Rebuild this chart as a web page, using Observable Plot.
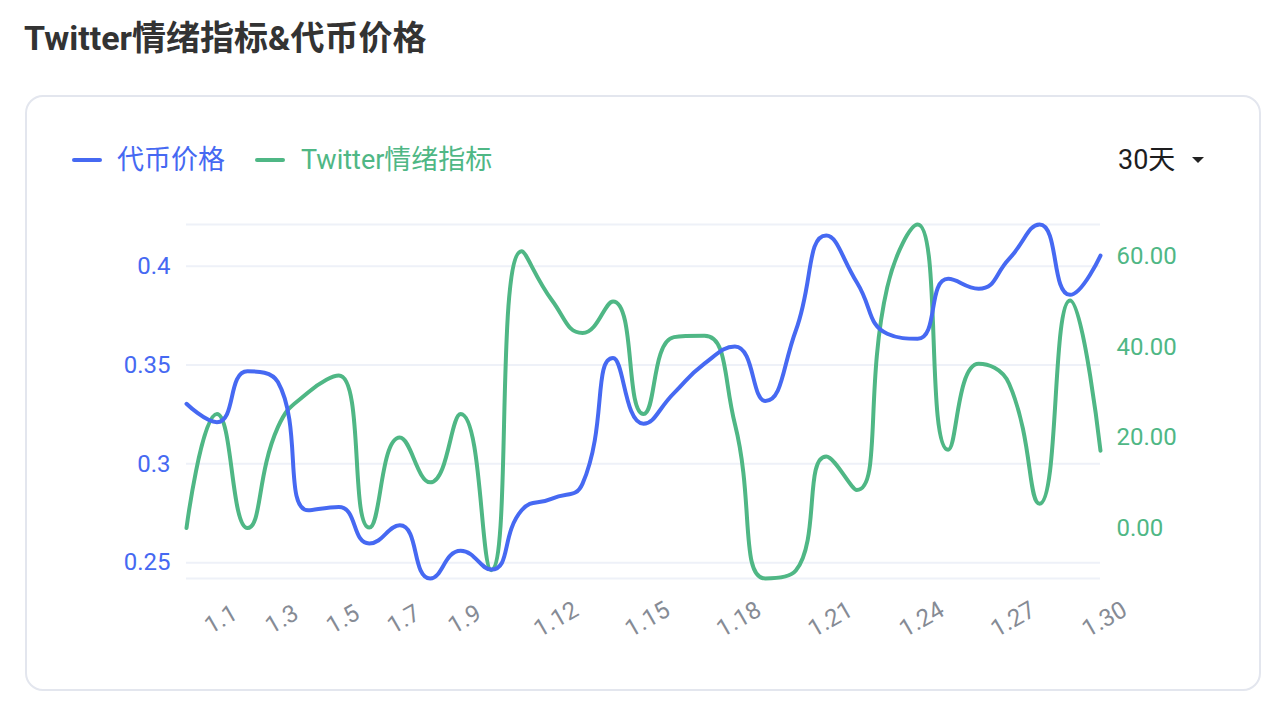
<!DOCTYPE html>
<html>
<head>
<meta charset="utf-8">
<script src="https://cdn.jsdelivr.net/npm/d3@7"></script>
<script src="https://cdn.jsdelivr.net/npm/@observablehq/plot@0.6"></script>
<style>
  html, body { margin: 0; padding: 0; background: #fff; width: 1280px; height: 710px; overflow: hidden;
    font-family: Roboto, "Noto Sans CJK SC", sans-serif; }
  #title { position: absolute; left: 24px; top: 17px; font-size: 34px; font-weight: 700; color: #333;
    line-height: 42px; font-family: Roboto, "Noto Sans CJK SC", sans-serif; white-space: nowrap; }
  #card { position: absolute; left: 25px; top: 95px; width: 1232px; height: 592px;
    border: 2px solid #e3e6ee; border-radius: 18px; box-sizing: content-box; }
  .mk { position: absolute; top: 158px; width: 30px; height: 4px; border-radius: 2px; }
  .lt { position: absolute; top: 143px; height: 34px; line-height: 34px; font-size: 27px; white-space: nowrap; }
  #dd { position: absolute; left: 1118px; top: 143px; height: 34px; line-height: 34px; font-size: 27px; color: #1d1d1f; }
  #caret { position: absolute; left: 1192px; top: 157px; width: 0; height: 0;
    border-left: 6px solid transparent; border-right: 6px solid transparent; border-top: 6px solid #222; }
  #chart { position: absolute; left: 0; top: 0; }
</style>
</head>
<body>
<div id="title">Twitter情绪指标&amp;代币价格</div>
<div id="card"></div>
<div id="chart"></div>
<div class="mk" id="mk1" style="left:72px"></div>
<div class="lt" id="lt1" style="left:117px"></div>
<div class="mk" id="mk2" style="left:255px"></div>
<div class="lt" id="lt2" style="left:301px"></div>
<div id="dd">30天</div>
<div id="caret"></div>
<script>
// ---- data ----
const dates = ["12.31","1.1","1.2","1.3","1.4","1.5","1.6","1.7","1.8","1.9","1.10",
  "1.11","1.12","1.13","1.14","1.15","1.16","1.17","1.18","1.19","1.20",
  "1.21","1.22","1.23","1.24","1.25","1.26","1.27","1.28","1.29","1.30"];
const price = [0.3304, 0.3211, 0.3468, 0.3414, 0.2765, 0.2782, 0.2597, 0.2689, 0.2420, 0.2560, 0.2465,
  0.2765, 0.2824, 0.2900, 0.3535, 0.3203, 0.3358, 0.3507, 0.3594, 0.3318, 0.3675,
  0.4155, 0.3919, 0.3658, 0.3633, 0.3936, 0.3886, 0.4037, 0.4211, 0.3855, 0.4054];
const sentiment = [0.0, 25.2, 0.0, 22.3, 30.0, 33.7, 0.1, 20.0, 10.1, 25.2, -9.3,
  61.2, 50.3, 43.1, 50.1, 25.2, 42.2, 42.5, 23.0, -11.15, -9.4,
  15.8, 8.4, 53.2, 67.1, 17.3, 36.3, 31.9, 5.4, 50.3, 17.1];
const seriesNames = ["代币价格", "Twitter情绪指标"];
const priceTicks = [0.25, 0.3, 0.35, 0.4];
const sentimentTicks = [0, 20, 40, 60];
const xTickLabels = ["1.1","1.3","1.5","1.7","1.9","1.12","1.15","1.18","1.21","1.24","1.27","1.30"];

const BLUE = "#4669f2";
const GREEN = "#4fb785";
const GRID = "#eef1f8";

// legend text
document.getElementById("mk1").style.background = BLUE;
document.getElementById("mk2").style.background = GREEN;
const lt1 = document.getElementById("lt1"); lt1.textContent = seriesNames[0]; lt1.style.color = BLUE;
const lt2 = document.getElementById("lt2"); lt2.textContent = seriesNames[1]; lt2.style.color = GREEN;

// ECharts-like smooth curve (smooth = 0.5)
function EChartsSmooth(context) { this._context = context; }
EChartsSmooth.prototype = {
  areaStart() { this._line = 0; },
  areaEnd() { this._line = NaN; },
  lineStart() { this._pts = []; },
  point(x, y) { this._pts.push([+x, +y]); },
  lineEnd() {
    const p = this._pts, ctx = this._context, n = p.length, s = 0.5;
    if (!n) return;
    ctx.moveTo(p[0][0], p[0][1]);
    let cpx0 = p[0][0], cpy0 = p[0][1];
    for (let i = 1; i < n; i++) {
      const [x, y] = p[i], [px, py] = p[i - 1];
      let cpx1, cpy1, ncx = x, ncy = y;
      if (i === n - 1) { cpx1 = x; cpy1 = y; }
      else {
        const [nx, ny] = p[i + 1];
        let vx = nx - px, vy = ny - py;
        const l0 = Math.hypot(x - px, y - py), l1 = Math.hypot(nx - x, ny - y);
        const r = l1 / (l0 + l1);
        ncx = x + vx * s * r; ncy = y + vy * s * r;
        ncx = Math.min(ncx, Math.max(nx, x)); ncy = Math.min(ncy, Math.max(ny, y));
        ncx = Math.max(ncx, Math.min(nx, x)); ncy = Math.max(ncy, Math.min(ny, y));
        vx = ncx - x; vy = ncy - y;
        cpx1 = x - vx * l0 / l1; cpy1 = y - vy * l0 / l1;
        cpx1 = Math.min(cpx1, Math.max(px, x)); cpy1 = Math.min(cpy1, Math.max(py, y));
        cpx1 = Math.max(cpx1, Math.min(px, x)); cpy1 = Math.max(cpy1, Math.min(py, y));
        vx = x - cpx1; vy = y - cpy1;
        ncx = x + vx * l1 / l0; ncy = y + vy * l1 / l0;
      }
      ctx.bezierCurveTo(cpx0, cpy0, cpx1, cpy1, x, y);
      cpx0 = ncx; cpy0 = ncy;
    }
  }
};
const curveECharts = (ctx) => new EChartsSmooth(ctx);

const pDomain = d3.extent(price);
const gDomain = d3.extent(sentiment);
const g2p = d3.scaleLinear(gDomain, pDomain);
const rows = dates.map((d, i) => ({date: d, price: price[i], senti: sentiment[i]}));

const chart = Plot.plot({
  width: 1280,
  height: 710,
  marginLeft: 186,
  marginRight: 180,
  marginTop: 224,
  marginBottom: 132,
  style: {background: "transparent", fontFamily: "Roboto, 'Noto Sans CJK SC', sans-serif", fontSize: "24px", overflow: "visible"},
  x: {type: "point", domain: dates, padding: 0, round: false},
  y: {domain: pDomain},
  marks: [
    Plot.gridY(priceTicks, {stroke: GRID, strokeOpacity: 1, strokeWidth: 2}),
    Plot.ruleY(pDomain, {stroke: GRID, strokeWidth: 2}),
    Plot.axisY(priceTicks, {anchor: "left", tickSize: 0, tickPadding: 16, fill: BLUE, fontSize: 24,
      tickFormat: d => String(d), label: null}),
    Plot.axisY(sentimentTicks, {anchor: "right", y: g2p, tickSize: 0, tickPadding: 16, fill: GREEN, fontSize: 24,
      tickFormat: d => d.toFixed(2), label: null}),
    Plot.axisX(xTickLabels, {anchor: "bottom", tickSize: 0, tickRotate: -30, tickPadding: 41, dx: 4,
      textAnchor: "middle", lineAnchor: "middle", fill: "#868b95", fontSize: 24, label: null}),
    Plot.line(rows, {x: "date", y: d => g2p(d.senti), stroke: GREEN, strokeWidth: 4, curve: curveECharts}),
    Plot.line(rows, {x: "date", y: "price", stroke: BLUE, strokeWidth: 4, curve: curveECharts})
  ]
});
document.getElementById("chart").appendChild(chart);
</script>
</body>
</html>
